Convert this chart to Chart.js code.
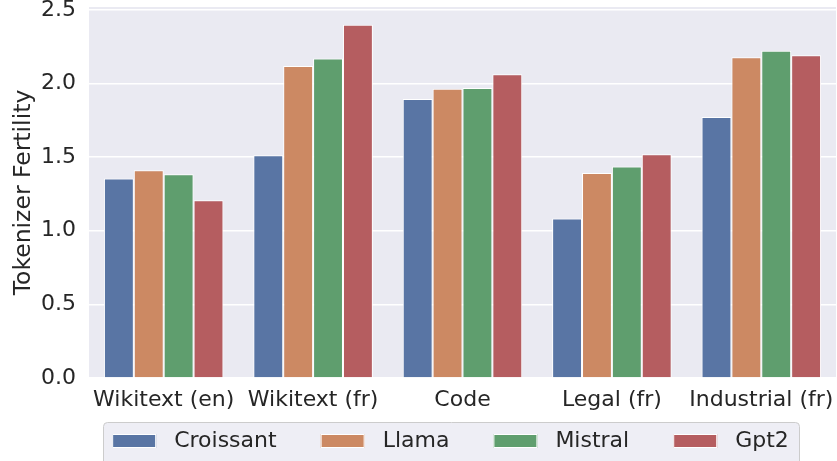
<!DOCTYPE html>
<html><head><meta charset="utf-8">
<script src="https://cdn.jsdelivr.net/npm/chart.js@4.4.0/dist/chart.umd.min.js"></script>
<style>html,body{margin:0;padding:0;background:#fff;overflow:hidden;} #wrap{width:837px;height:461px;}</style>
</head><body><div id="wrap"><canvas id="c" width="837" height="461"></canvas></div>
<script>
const categories = ['Wikitext (en)', 'Wikitext (fr)', 'Code', 'Legal (fr)', 'Industrial (fr)'];
const seriesNames = ['Croissant', 'Llama', 'Mistral', 'Gpt2'];
const croissant = [1.355, 1.513, 1.895, 1.083, 1.773];
const llama     = [1.411, 2.119, 1.965, 1.393, 2.178];
const mistral   = [1.384, 2.171, 1.969, 1.436, 2.223];
const gpt2      = [1.208, 2.400, 2.064, 1.520, 2.193];
const yTicks = [0.0, 0.5, 1.0, 1.5, 2.0, 2.5];
const yAxisLabel = 'Tokenizer Fertility';

const colors = ['#5975a4', '#cc8963', '#5f9e6e', '#b55d60'];
const textColor = '#262626';
const fontFamily = '"DejaVu Sans", sans-serif';

const bgPlugin = {
  id: 'bg',
  beforeDraw(chart) {
    const {ctx, chartArea: a} = chart;
    ctx.save();
    ctx.fillStyle = '#ffffff';
    ctx.fillRect(0, 0, chart.width, chart.height);
    ctx.fillStyle = '#eaeaf2';
    ctx.fillRect(a.left, a.top, a.right - a.left, a.bottom - a.top);
    ctx.restore();
  }
};

const legendPlugin = {
  id: 'sbLegend',
  afterDraw(chart) {
    const ctx = chart.ctx;
    ctx.save();
    ctx.font = '22px ' + fontFamily;
    const sw = 44, sh = 14, gap = 18, col = 44;
    const items = chart.data.datasets.map(d => ({label: d.label, color: d.backgroundColor, w: ctx.measureText(d.label).width}));
    const total = items.reduce((s, it) => s + sw + gap + it.w, 0) + col * (items.length - 1);
    const cx = 450.5;
    let x = cx - total / 2;
    const top = 422.5;
    ctx.beginPath();
    ctx.roundRect(Math.round(x - 9) + 0.5, top, Math.round(total + 19), 60, 4);
    ctx.fillStyle = 'rgba(234,234,242,0.8)';
    ctx.fill();
    ctx.strokeStyle = '#cccccc';
    ctx.lineWidth = 1;
    ctx.stroke();
    ctx.textBaseline = 'middle';
    ctx.textAlign = 'left';
    items.forEach(it => {
      ctx.fillStyle = it.color;
      ctx.fillRect(x, 434, sw, sh);
      ctx.strokeStyle = '#ffffff';
      ctx.lineWidth = 1;
      ctx.strokeRect(x + 0.5, 434.5, sw - 1, sh - 1);
      ctx.fillStyle = textColor;
      ctx.fillText(it.label, x + sw + gap, 441);
      x += sw + gap + it.w + col;
    });
    ctx.restore();
  }
};

const seriesValues = [croissant, llama, mistral, gpt2];

new Chart(document.getElementById('c'), {
  type: 'bar',
  data: {
    labels: categories,
    datasets: seriesNames.map((n, i) => ({
      label: n,
      data: seriesValues[i],
      backgroundColor: colors[i],
      borderColor: '#ffffff',
      borderWidth: 1,
      categoryPercentage: 0.8,
      barPercentage: 1.0
    }))
  },
  options: {
    responsive: false,
    animation: false,
    devicePixelRatio: 1,
    layout: {padding: {top: 7, right: 1, left: 0, bottom: 0}},
    plugins: {legend: {display: false}, tooltip: {enabled: false}},
    scales: {
      x: {
        grid: {display: false, drawTicks: false},
        border: {display: false},
        ticks: {color: textColor, font: {family: fontFamily, size: 22}, padding: 9, maxRotation: 0, autoSkip: false},
        afterFit(s) { s.height = 83; s.paddingLeft = 0; s.paddingRight = 0; }
      },
      y: {
        min: 0, max: 2.52,
        grid: {color: '#ffffff', lineWidth: 1.5, drawTicks: false},
        border: {display: false},
        ticks: {color: textColor, font: {family: fontFamily, size: 22}, padding: 13, includeBounds: false,
                callback: v => Number(v).toFixed(1)},
        afterBuildTicks(s) { s.ticks = yTicks.map(v => ({value: v})); },
        title: {display: true, text: yAxisLabel, color: textColor, font: {family: fontFamily, size: 23.5}, padding: {top: 10, bottom: 0}},
        afterFit(s) { s.width = 89; s.paddingTop = 0; s.paddingBottom = 0; }
      }
    }
  },
  plugins: [bgPlugin, legendPlugin]
});
</script>
</body></html>
